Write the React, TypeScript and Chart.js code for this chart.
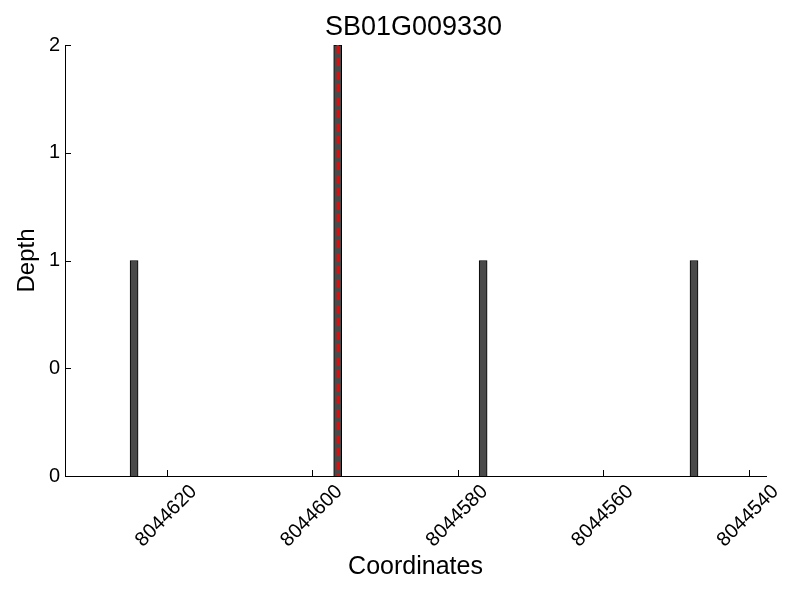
import React, { useEffect, useRef } from "react";
import { Chart, registerables } from "chart.js";

Chart.register(...registerables);

const TITLE = "SB01G009330";
const X_LABEL = "Coordinates";
const Y_LABEL = "Depth";
const POSITIONS = [8044624.5, 8044596.5, 8044576.5, 8044547.5];
const DEPTHS = [1, 2, 1, 1];
const MARKER_X = 8044596.5;
const X_TICKS = [8044620, 8044600, 8044580, 8044560, 8044540];
const Y_TICKS = [0, 0.5, 1, 1.5, 2];
const Y_TICK_LABELS = ["0", "0", "1", "1", "2"];
const X_MIN = 8044537.6;
const X_MAX = 8044634;

const FONT = '"Liberation Sans", Arial, sans-serif';

const overlay = {
  id: "overlay",
  afterDatasetsDraw(chart: any) {
    const { ctx, chartArea, scales } = chart;
    const xs = scales.x;
    const ys = scales.y;
    ctx.save();
    // red dashed marker
    const mx = xs.getPixelForValue(MARKER_X);
    ctx.strokeStyle = "#ff0000";
    ctx.lineWidth = 2.2;
    ctx.setLineDash([8, 5]);
    ctx.beginPath();
    ctx.moveTo(mx, chartArea.top);
    ctx.lineTo(mx, chartArea.bottom);
    ctx.stroke();
    // inward ticks
    ctx.setLineDash([]);
    ctx.strokeStyle = "#000";
    ctx.lineWidth = 1;
    ctx.beginPath();
    xs.ticks.forEach((t: any) => {
      const px = Math.round(xs.getPixelForValue(t.value)) + 0.5;
      ctx.moveTo(px, chartArea.bottom);
      ctx.lineTo(px, chartArea.bottom - 6);
    });
    ys.ticks.forEach((t: any) => {
      const py = Math.round(ys.getPixelForValue(t.value)) + 0.5;
      ctx.moveTo(chartArea.left, py);
      ctx.lineTo(chartArea.left + 6, py);
    });
    ctx.stroke();
    // title
    ctx.fillStyle = "#000";
    ctx.font = `27px ${FONT}`;
    ctx.textAlign = "center";
    ctx.textBaseline = "middle";
    ctx.fillText(TITLE, (chartArea.left + chartArea.right) / 2 - 2, 28);
    ctx.restore();
  },
};

export default function App() {
  const ref = useRef<HTMLCanvasElement | null>(null);

  useEffect(() => {
    document.body.style.margin = "0";
    const canvas = ref.current;
    if (!canvas) return;
    const chart = new Chart(canvas, {
      type: "bar",
      data: {
        datasets: [
          {
            data: POSITIONS.map((x, i) => ({ x, y: DEPTHS[i] })),
            backgroundColor: "#4a4a4a",
            borderColor: "#000000",
            borderWidth: 1,
            barThickness: 8,
          },
        ],
      },
      options: {
        animation: false,
        responsive: false,
        layout: { padding: { top: 45, right: 34, left: 0, bottom: 0 } },
        plugins: {
          legend: { display: false },
          title: { display: false },
          tooltip: { enabled: false },
        },
        scales: {
          x: {
            type: "linear",
            reverse: true,
            min: X_MIN,
            max: X_MAX,
            offset: false,
            grid: { display: false, drawTicks: false },
            border: { display: true, color: "#000", width: 1 },
            afterBuildTicks: (scale: any) => {
              scale.ticks = X_TICKS.map((v) => ({ value: v }));
            },
            afterFit: (scale: any) => {
              scale.height = 124;
            },
            ticks: {
              autoSkip: false,
              minRotation: 45,
              maxRotation: 45,
              padding: 4,
              labelOffset: 27,
              color: "#000",
              font: { family: FONT, size: 20 },
              callback: (v: any) => String(v),
            },
            title: {
              display: true,
              text: X_LABEL,
              color: "#000",
              font: { family: FONT, size: 25 },
              padding: { top: 0, bottom: 18 },
            },
          },
          y: {
            type: "linear",
            min: 0,
            max: 2,
            grid: { display: false, drawTicks: false },
            border: { display: true, color: "#000", width: 1 },
            afterBuildTicks: (scale: any) => {
              scale.ticks = Y_TICKS.map((v) => ({ value: v }));
            },
            afterFit: (scale: any) => {
              scale.width = 65;
            },
            ticks: {
              padding: 5,
              color: "#000",
              font: { family: FONT, size: 20 },
              callback: (v: any) => {
                const i = Y_TICKS.indexOf(Number(v));
                return i >= 0 ? Y_TICK_LABELS[i] : "";
              },
            },
            title: {
              display: true,
              text: Y_LABEL,
              color: "#000",
              font: { family: FONT, size: 24 },
              padding: { top: 13, bottom: 0 },
            },
          },
        },
      },
      plugins: [overlay],
    } as any);
    return () => chart.destroy();
  }, []);

  return (
    <div style={{ position: "absolute", left: 0, top: 0, width: 800, height: 600, background: "#fff" }}>
      <canvas ref={ref} width={800} height={600} />
    </div>
  );
}
